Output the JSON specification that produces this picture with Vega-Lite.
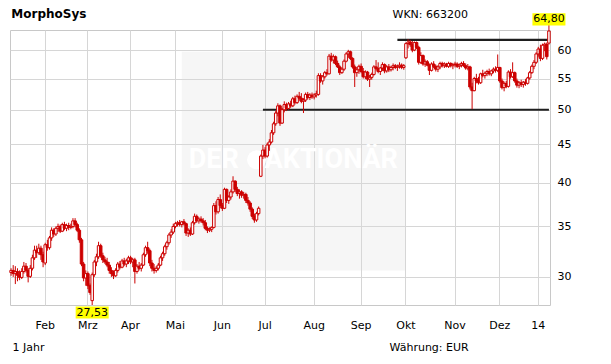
{
"$schema": "https://vega.github.io/schema/vega-lite/v6.json",
"autosize": {"type": "none"},
"padding": {"left": 10, "top": 30, "right": 61, "bottom": 59},
"width": 540,
"height": 275,
"background": "white",
"title": {"text": "MorphoSys", "anchor": "start", "font": "DejaVu Sans", "fontSize": 12, "fontWeight": "bold", "color": "black", "dx": 2, "dy": 17, "offset": 4},
"config": {"view": {"stroke": "#c8c8c8", "strokeWidth": 1}},
"datasets": {
"k": [
{"d":"2013-01-10","o":30.4,"h":30.8,"l":30.1,"c":30.6},
{"d":"2013-01-11","o":30.6,"h":31.1,"l":30.0,"c":30.3},
{"d":"2013-01-14","o":30.3,"h":31.0,"l":29.35,"c":30.5},
{"d":"2013-01-15","o":30.5,"h":30.8,"l":29.6,"c":30.15},
{"d":"2013-01-16","o":30.15,"h":30.6,"l":29.7,"c":29.95},
{"d":"2013-01-17","o":29.95,"h":30.8,"l":29.8,"c":30.5},
{"d":"2013-01-18","o":30.5,"h":31.4,"l":30.3,"c":31.0},
{"d":"2013-01-21","o":31.0,"h":31.3,"l":30.4,"c":30.6},
{"d":"2013-01-22","o":30.6,"h":30.8,"l":29.5,"c":30.05},
{"d":"2013-01-23","o":30.05,"h":31.1,"l":29.9,"c":30.8},
{"d":"2013-01-24","o":30.8,"h":32.1,"l":30.6,"c":31.8},
{"d":"2013-01-25","o":31.8,"h":33.0,"l":31.6,"c":32.55},
{"d":"2013-01-28","o":32.55,"h":33.0,"l":31.8,"c":32.3},
{"d":"2013-01-29","o":32.3,"h":33.2,"l":32.1,"c":32.75},
{"d":"2013-01-30","o":32.75,"h":33.0,"l":31.6,"c":32.1},
{"d":"2013-01-31","o":32.1,"h":32.4,"l":30.9,"c":31.4},
{"d":"2013-02-01","o":31.3,"h":33.3,"l":31.1,"c":33.1},
{"d":"2013-02-04","o":33.1,"h":33.6,"l":32.5,"c":32.8},
{"d":"2013-02-05","o":32.8,"h":34.0,"l":32.6,"c":33.8},
{"d":"2013-02-06","o":33.8,"h":34.9,"l":33.5,"c":34.6},
{"d":"2013-02-07","o":34.6,"h":34.8,"l":33.9,"c":34.2},
{"d":"2013-02-08","o":34.2,"h":35.0,"l":34.0,"c":34.8},
{"d":"2013-02-11","o":34.8,"h":35.3,"l":34.4,"c":35.0},
{"d":"2013-02-12","o":35.0,"h":35.2,"l":34.3,"c":34.5},
{"d":"2013-02-13","o":34.5,"h":35.4,"l":34.4,"c":35.2},
{"d":"2013-02-14","o":35.2,"h":35.5,"l":34.6,"c":34.8},
{"d":"2013-02-15","o":34.8,"h":35.3,"l":34.5,"c":35.1},
{"d":"2013-02-18","o":35.1,"h":35.4,"l":34.6,"c":34.9},
{"d":"2013-02-19","o":34.9,"h":35.3,"l":34.7,"c":35.0},
{"d":"2013-02-20","o":35.0,"h":35.9,"l":34.8,"c":35.6},
{"d":"2013-02-21","o":35.6,"h":35.9,"l":34.9,"c":35.2},
{"d":"2013-02-22","o":35.2,"h":35.4,"l":34.4,"c":34.6},
{"d":"2013-02-25","o":34.6,"h":34.8,"l":33.3,"c":33.6},
{"d":"2013-02-26","o":33.6,"h":33.8,"l":31.0,"c":31.2},
{"d":"2013-02-27","o":31.2,"h":31.4,"l":29.6,"c":29.9},
{"d":"2013-02-28","o":29.9,"h":30.6,"l":29.2,"c":30.3},
{"d":"2013-03-01","o":30.3,"h":30.5,"l":28.9,"c":29.2},
{"d":"2013-03-04","o":29.2,"h":29.4,"l":28.4,"c":28.6},
{"d":"2013-03-05","o":27.9,"h":30.4,"l":27.53,"c":30.2},
{"d":"2013-03-06","o":30.2,"h":31.6,"l":30.0,"c":31.4},
{"d":"2013-03-07","o":31.4,"h":32.2,"l":31.0,"c":31.9},
{"d":"2013-03-08","o":31.9,"h":33.4,"l":31.7,"c":33.0},
{"d":"2013-03-11","o":33.0,"h":33.2,"l":31.8,"c":32.0},
{"d":"2013-03-12","o":32.0,"h":32.3,"l":31.3,"c":31.6},
{"d":"2013-03-13","o":31.6,"h":31.9,"l":31.2,"c":31.4},
{"d":"2013-03-14","o":31.4,"h":31.8,"l":30.9,"c":31.1},
{"d":"2013-03-15","o":31.1,"h":31.4,"l":30.3,"c":30.6},
{"d":"2013-03-18","o":30.6,"h":30.9,"l":30.0,"c":30.3},
{"d":"2013-03-19","o":30.3,"h":30.6,"l":29.8,"c":30.1},
{"d":"2013-03-20","o":30.1,"h":30.8,"l":30.0,"c":30.6},
{"d":"2013-03-21","o":30.6,"h":31.4,"l":30.4,"c":31.2},
{"d":"2013-03-22","o":31.2,"h":31.5,"l":30.7,"c":30.9},
{"d":"2013-03-25","o":30.9,"h":31.7,"l":30.8,"c":31.5},
{"d":"2013-03-26","o":31.5,"h":31.8,"l":31.0,"c":31.2},
{"d":"2013-03-27","o":31.2,"h":31.7,"l":30.9,"c":31.5},
{"d":"2013-03-28","o":31.5,"h":32.0,"l":31.2,"c":31.8},
{"d":"2013-04-02","o":31.8,"h":32.0,"l":31.2,"c":31.4},
{"d":"2013-04-03","o":31.4,"h":31.8,"l":30.9,"c":31.6},
{"d":"2013-04-04","o":31.6,"h":31.8,"l":29.4,"c":30.5},
{"d":"2013-04-05","o":30.5,"h":31.2,"l":30.3,"c":31.0},
{"d":"2013-04-08","o":31.0,"h":31.4,"l":30.6,"c":30.8},
{"d":"2013-04-09","o":30.8,"h":31.3,"l":30.5,"c":31.1},
{"d":"2013-04-10","o":31.1,"h":32.3,"l":31.0,"c":32.1},
{"d":"2013-04-11","o":32.1,"h":33.0,"l":31.9,"c":32.8},
{"d":"2013-04-12","o":32.8,"h":33.4,"l":32.2,"c":32.5},
{"d":"2013-04-15","o":32.5,"h":32.7,"l":31.0,"c":31.3},
{"d":"2013-04-16","o":31.3,"h":31.6,"l":30.5,"c":30.8},
{"d":"2013-04-17","o":30.8,"h":31.2,"l":30.3,"c":30.6},
{"d":"2013-04-18","o":30.6,"h":31.0,"l":30.4,"c":30.8},
{"d":"2013-04-19","o":30.8,"h":31.3,"l":30.6,"c":31.1},
{"d":"2013-04-22","o":31.1,"h":32.0,"l":31.0,"c":31.8},
{"d":"2013-04-23","o":31.8,"h":32.4,"l":31.5,"c":32.2},
{"d":"2013-04-24","o":32.2,"h":33.1,"l":32.0,"c":32.9},
{"d":"2013-04-25","o":32.9,"h":33.5,"l":32.6,"c":33.3},
{"d":"2013-04-26","o":33.3,"h":34.3,"l":33.1,"c":34.1},
{"d":"2013-04-29","o":34.1,"h":34.7,"l":33.8,"c":34.4},
{"d":"2013-04-30","o":34.4,"h":35.3,"l":34.2,"c":35.0},
{"d":"2013-05-02","o":35.0,"h":35.5,"l":34.8,"c":35.3},
{"d":"2013-05-03","o":35.3,"h":35.6,"l":35.0,"c":35.4},
{"d":"2013-05-06","o":35.4,"h":35.7,"l":35.0,"c":35.2},
{"d":"2013-05-07","o":35.2,"h":35.6,"l":34.9,"c":35.5},
{"d":"2013-05-08","o":35.5,"h":35.8,"l":35.1,"c":35.3},
{"d":"2013-05-09","o":35.3,"h":35.4,"l":34.0,"c":34.3},
{"d":"2013-05-10","o":34.3,"h":34.8,"l":33.9,"c":34.6},
{"d":"2013-05-13","o":34.6,"h":34.9,"l":34.0,"c":34.2},
{"d":"2013-05-14","o":34.2,"h":35.6,"l":34.1,"c":35.4},
{"d":"2013-05-15","o":35.4,"h":36.4,"l":35.2,"c":36.1},
{"d":"2013-05-16","o":36.1,"h":36.3,"l":35.4,"c":35.6},
{"d":"2013-05-17","o":35.6,"h":36.0,"l":35.3,"c":35.8},
{"d":"2013-05-20","o":35.8,"h":36.1,"l":35.4,"c":35.6},
{"d":"2013-05-21","o":35.6,"h":35.9,"l":35.1,"c":35.4},
{"d":"2013-05-22","o":35.4,"h":35.7,"l":34.6,"c":34.8},
{"d":"2013-05-23","o":34.8,"h":35.0,"l":34.3,"c":34.6},
{"d":"2013-05-24","o":34.6,"h":34.9,"l":34.4,"c":34.7},
{"d":"2013-05-27","o":34.7,"h":35.0,"l":34.4,"c":34.9},
{"d":"2013-05-28","o":34.9,"h":37.6,"l":34.8,"c":37.3},
{"d":"2013-05-29","o":37.3,"h":37.8,"l":36.3,"c":36.6},
{"d":"2013-05-30","o":36.6,"h":38.3,"l":36.4,"c":38.0},
{"d":"2013-05-31","o":38.0,"h":38.6,"l":37.0,"c":37.3},
{"d":"2013-06-03","o":37.3,"h":37.6,"l":36.7,"c":37.0},
{"d":"2013-06-04","o":37.0,"h":39.4,"l":36.9,"c":39.2},
{"d":"2013-06-05","o":39.2,"h":39.3,"l":37.6,"c":37.9},
{"d":"2013-06-06","o":37.9,"h":38.5,"l":37.5,"c":38.3},
{"d":"2013-06-07","o":38.3,"h":39.2,"l":38.0,"c":38.9},
{"d":"2013-06-10","o":38.9,"h":40.8,"l":38.7,"c":40.2},
{"d":"2013-06-11","o":40.2,"h":40.3,"l":38.9,"c":39.2},
{"d":"2013-06-12","o":39.2,"h":39.5,"l":38.4,"c":38.7},
{"d":"2013-06-13","o":38.7,"h":39.2,"l":38.1,"c":38.9},
{"d":"2013-06-14","o":38.9,"h":39.1,"l":38.2,"c":38.5},
{"d":"2013-06-17","o":38.5,"h":38.9,"l":38.1,"c":38.6},
{"d":"2013-06-18","o":38.6,"h":38.8,"l":37.6,"c":37.9},
{"d":"2013-06-19","o":37.9,"h":38.3,"l":37.3,"c":37.6},
{"d":"2013-06-20","o":37.6,"h":37.8,"l":36.6,"c":36.9},
{"d":"2013-06-21","o":36.9,"h":37.1,"l":35.8,"c":36.1},
{"d":"2013-06-24","o":36.1,"h":36.4,"l":35.4,"c":35.7},
{"d":"2013-06-25","o":35.7,"h":36.6,"l":35.5,"c":36.4},
{"d":"2013-06-26","o":36.4,"h":37.2,"l":36.2,"c":37.0},
{"d":"2013-06-27","o":40.8,"h":43.6,"l":40.7,"c":43.4},
{"d":"2013-06-28","o":43.4,"h":44.9,"l":43.0,"c":44.2},
{"d":"2013-07-01","o":44.2,"h":44.6,"l":43.1,"c":43.4},
{"d":"2013-07-02","o":43.4,"h":45.2,"l":43.2,"c":44.9},
{"d":"2013-07-03","o":44.9,"h":45.7,"l":44.1,"c":45.3},
{"d":"2013-07-04","o":45.3,"h":47.0,"l":45.1,"c":46.6},
{"d":"2013-07-05","o":46.6,"h":48.2,"l":46.3,"c":47.9},
{"d":"2013-07-08","o":47.9,"h":49.8,"l":47.6,"c":49.5},
{"d":"2013-07-09","o":49.5,"h":51.0,"l":49.0,"c":50.6},
{"d":"2013-07-10","o":50.6,"h":50.8,"l":47.6,"c":48.0},
{"d":"2013-07-11","o":48.0,"h":50.3,"l":47.9,"c":50.0},
{"d":"2013-07-12","o":50.0,"h":51.3,"l":49.6,"c":50.8},
{"d":"2013-07-15","o":50.8,"h":51.1,"l":49.8,"c":50.2},
{"d":"2013-07-16","o":50.2,"h":51.2,"l":50.0,"c":50.9},
{"d":"2013-07-17","o":50.9,"h":51.4,"l":50.3,"c":50.6},
{"d":"2013-07-18","o":50.6,"h":52.0,"l":50.4,"c":51.7},
{"d":"2013-07-19","o":51.7,"h":52.2,"l":50.8,"c":51.1},
{"d":"2013-07-22","o":51.1,"h":52.4,"l":50.9,"c":52.1},
{"d":"2013-07-23","o":52.1,"h":52.8,"l":51.4,"c":51.8},
{"d":"2013-07-24","o":51.8,"h":52.6,"l":51.0,"c":51.3},
{"d":"2013-07-25","o":51.3,"h":51.8,"l":49.5,"c":51.5},
{"d":"2013-07-26","o":51.5,"h":52.7,"l":51.2,"c":52.4},
{"d":"2013-07-29","o":52.4,"h":52.8,"l":51.6,"c":51.9},
{"d":"2013-07-30","o":51.9,"h":52.6,"l":51.5,"c":52.3},
{"d":"2013-07-31","o":52.3,"h":52.7,"l":51.7,"c":52.0},
{"d":"2013-08-01","o":52.0,"h":52.6,"l":51.6,"c":52.3},
{"d":"2013-08-02","o":52.3,"h":53.0,"l":51.9,"c":52.5},
{"d":"2013-08-05","o":52.4,"h":55.9,"l":52.2,"c":55.5},
{"d":"2013-08-06","o":55.5,"h":55.9,"l":54.3,"c":54.6},
{"d":"2013-08-07","o":54.6,"h":55.6,"l":54.0,"c":55.3},
{"d":"2013-08-08","o":55.3,"h":56.3,"l":55.0,"c":56.0},
{"d":"2013-08-09","o":56.0,"h":56.6,"l":55.5,"c":55.8},
{"d":"2013-08-12","o":55.8,"h":59.3,"l":55.7,"c":58.9},
{"d":"2013-08-13","o":58.9,"h":59.5,"l":57.9,"c":58.2},
{"d":"2013-08-14","o":58.2,"h":59.2,"l":57.6,"c":58.8},
{"d":"2013-08-15","o":58.8,"h":59.0,"l":57.3,"c":57.6},
{"d":"2013-08-16","o":57.6,"h":58.1,"l":56.8,"c":57.0},
{"d":"2013-08-19","o":57.0,"h":57.3,"l":55.6,"c":56.0},
{"d":"2013-08-20","o":56.0,"h":56.9,"l":55.8,"c":56.6},
{"d":"2013-08-21","o":56.6,"h":58.3,"l":56.3,"c":58.0},
{"d":"2013-08-22","o":58.0,"h":59.6,"l":57.8,"c":59.3},
{"d":"2013-08-23","o":59.3,"h":60.05,"l":58.6,"c":59.7},
{"d":"2013-08-26","o":59.7,"h":59.9,"l":58.2,"c":58.5},
{"d":"2013-08-27","o":58.5,"h":58.7,"l":56.7,"c":57.0},
{"d":"2013-08-28","o":57.0,"h":57.4,"l":53.6,"c":56.0},
{"d":"2013-08-29","o":56.0,"h":57.0,"l":55.3,"c":56.5},
{"d":"2013-08-30","o":56.5,"h":57.4,"l":55.8,"c":57.1},
{"d":"2013-09-02","o":57.1,"h":57.6,"l":55.9,"c":56.2},
{"d":"2013-09-03","o":56.2,"h":56.8,"l":55.0,"c":55.3},
{"d":"2013-09-04","o":55.3,"h":56.4,"l":54.9,"c":56.1},
{"d":"2013-09-05","o":56.1,"h":56.3,"l":54.6,"c":54.9},
{"d":"2013-09-06","o":54.9,"h":55.6,"l":53.6,"c":55.2},
{"d":"2013-09-09","o":55.2,"h":56.0,"l":54.8,"c":55.7},
{"d":"2013-09-10","o":55.7,"h":57.3,"l":55.5,"c":57.0},
{"d":"2013-09-11","o":57.0,"h":58.2,"l":56.4,"c":56.7},
{"d":"2013-09-12","o":56.7,"h":57.8,"l":55.9,"c":56.2},
{"d":"2013-09-13","o":56.2,"h":57.0,"l":55.6,"c":56.8},
{"d":"2013-09-16","o":56.8,"h":57.8,"l":56.3,"c":57.4},
{"d":"2013-09-17","o":57.4,"h":57.6,"l":55.9,"c":56.3},
{"d":"2013-09-18","o":56.3,"h":57.3,"l":56.0,"c":57.0},
{"d":"2013-09-19","o":57.0,"h":57.5,"l":56.1,"c":56.5},
{"d":"2013-09-20","o":56.5,"h":57.2,"l":56.2,"c":56.9},
{"d":"2013-09-23","o":56.9,"h":57.6,"l":56.4,"c":57.2},
{"d":"2013-09-24","o":57.2,"h":57.5,"l":56.6,"c":56.9},
{"d":"2013-09-25","o":56.9,"h":57.4,"l":56.3,"c":57.1},
{"d":"2013-09-26","o":57.1,"h":57.8,"l":56.7,"c":57.3},
{"d":"2013-09-27","o":57.3,"h":57.6,"l":56.6,"c":56.9},
{"d":"2013-09-30","o":56.9,"h":57.5,"l":56.5,"c":57.2},
{"d":"2013-10-01","o":58.6,"h":61.4,"l":58.4,"c":61.2},
{"d":"2013-10-02","o":61.2,"h":62.0,"l":60.3,"c":61.5},
{"d":"2013-10-03","o":61.5,"h":61.9,"l":60.6,"c":61.0},
{"d":"2013-10-04","o":61.0,"h":61.7,"l":59.6,"c":60.0},
{"d":"2013-10-07","o":60.0,"h":61.6,"l":59.8,"c":61.4},
{"d":"2013-10-08","o":61.4,"h":61.6,"l":60.2,"c":60.5},
{"d":"2013-10-09","o":60.5,"h":60.8,"l":57.4,"c":57.8},
{"d":"2013-10-10","o":57.8,"h":59.6,"l":57.5,"c":59.0},
{"d":"2013-10-11","o":59.0,"h":59.2,"l":57.2,"c":57.5},
{"d":"2013-10-14","o":57.5,"h":58.3,"l":57.0,"c":57.9},
{"d":"2013-10-15","o":57.9,"h":58.2,"l":57.1,"c":57.3},
{"d":"2013-10-16","o":57.3,"h":57.6,"l":55.6,"c":56.4},
{"d":"2013-10-17","o":56.4,"h":57.8,"l":56.2,"c":57.5},
{"d":"2013-10-18","o":57.5,"h":58.0,"l":56.8,"c":57.1},
{"d":"2013-10-21","o":57.1,"h":57.4,"l":56.2,"c":56.6},
{"d":"2013-10-22","o":56.6,"h":57.3,"l":56.1,"c":57.0},
{"d":"2013-10-23","o":57.0,"h":57.9,"l":56.6,"c":57.6},
{"d":"2013-10-24","o":57.6,"h":57.9,"l":56.9,"c":57.2},
{"d":"2013-10-25","o":57.2,"h":57.8,"l":56.8,"c":57.5},
{"d":"2013-10-28","o":57.5,"h":57.7,"l":56.9,"c":57.1},
{"d":"2013-10-29","o":57.1,"h":57.9,"l":56.8,"c":57.6},
{"d":"2013-10-30","o":57.6,"h":57.8,"l":56.9,"c":57.2},
{"d":"2013-10-31","o":57.2,"h":57.7,"l":56.6,"c":57.4},
{"d":"2013-11-01","o":57.4,"h":57.9,"l":56.9,"c":57.5},
{"d":"2013-11-04","o":57.5,"h":57.8,"l":56.8,"c":57.1},
{"d":"2013-11-05","o":57.1,"h":57.6,"l":56.6,"c":57.3},
{"d":"2013-11-06","o":57.3,"h":57.9,"l":56.9,"c":57.6},
{"d":"2013-11-07","o":57.6,"h":58.0,"l":57.0,"c":57.2},
{"d":"2013-11-08","o":57.2,"h":57.6,"l":56.5,"c":56.8},
{"d":"2013-11-11","o":56.8,"h":57.5,"l":56.4,"c":57.0},
{"d":"2013-11-12","o":57.0,"h":57.2,"l":53.2,"c":53.6},
{"d":"2013-11-13","o":53.6,"h":54.3,"l":50.1,"c":53.0},
{"d":"2013-11-14","o":53.0,"h":55.3,"l":52.9,"c":55.0},
{"d":"2013-11-15","o":55.0,"h":55.8,"l":54.2,"c":54.6},
{"d":"2013-11-18","o":54.6,"h":55.3,"l":54.0,"c":54.3},
{"d":"2013-11-19","o":54.3,"h":56.0,"l":54.1,"c":55.8},
{"d":"2013-11-20","o":55.8,"h":56.5,"l":55.2,"c":55.5},
{"d":"2013-11-21","o":55.5,"h":56.2,"l":55.0,"c":55.9},
{"d":"2013-11-22","o":55.9,"h":56.5,"l":55.4,"c":56.2},
{"d":"2013-11-25","o":56.2,"h":56.7,"l":55.5,"c":55.8},
{"d":"2013-11-26","o":55.8,"h":56.5,"l":55.4,"c":56.3},
{"d":"2013-11-27","o":56.3,"h":56.9,"l":55.9,"c":56.6},
{"d":"2013-11-28","o":56.6,"h":57.1,"l":56.0,"c":56.4},
{"d":"2013-11-29","o":56.4,"h":59.2,"l":56.1,"c":56.9},
{"d":"2013-12-02","o":56.9,"h":57.0,"l":54.3,"c":54.6},
{"d":"2013-12-03","o":54.6,"h":55.0,"l":53.2,"c":53.5},
{"d":"2013-12-04","o":53.5,"h":54.5,"l":52.9,"c":54.2},
{"d":"2013-12-05","o":54.2,"h":54.6,"l":53.4,"c":53.7},
{"d":"2013-12-06","o":53.7,"h":56.4,"l":53.5,"c":56.1},
{"d":"2013-12-09","o":56.1,"h":56.6,"l":55.0,"c":55.3},
{"d":"2013-12-10","o":55.3,"h":57.8,"l":55.1,"c":56.0},
{"d":"2013-12-11","o":56.0,"h":56.2,"l":54.3,"c":54.6},
{"d":"2013-12-12","o":54.6,"h":55.0,"l":53.5,"c":53.9},
{"d":"2013-12-13","o":53.9,"h":54.6,"l":53.4,"c":54.3},
{"d":"2013-12-16","o":54.3,"h":54.8,"l":53.6,"c":54.0},
{"d":"2013-12-17","o":54.0,"h":54.6,"l":53.5,"c":54.4},
{"d":"2013-12-18","o":54.4,"h":54.9,"l":53.8,"c":54.2},
{"d":"2013-12-19","o":54.2,"h":55.3,"l":54.0,"c":55.1},
{"d":"2013-12-20","o":55.1,"h":56.3,"l":54.8,"c":56.0},
{"d":"2013-12-23","o":56.0,"h":57.4,"l":55.8,"c":57.1},
{"d":"2013-12-27","o":57.1,"h":58.2,"l":56.6,"c":57.8},
{"d":"2013-12-30","o":57.8,"h":59.6,"l":57.5,"c":59.3},
{"d":"2014-01-02","o":59.3,"h":60.6,"l":58.8,"c":60.2},
{"d":"2014-01-03","o":60.2,"h":61.0,"l":58.0,"c":58.5},
{"d":"2014-01-06","o":58.5,"h":61.2,"l":58.2,"c":60.9},
{"d":"2014-01-07","o":60.9,"h":61.4,"l":59.8,"c":61.1},
{"d":"2014-01-08","o":61.1,"h":61.4,"l":58.3,"c":58.8},
{"d":"2014-01-09","o":61.3,"h":64.8,"l":61.0,"c":63.6}
],
"lines": [
{"a":"2013-06-28","b":"2014-01-09","v":50.0},
{"a":"2013-09-25","b":"2014-01-09","v":61.9}
],
"wm": [{"a":"2013-05-07","b":"2013-10-01","y1":30.6,"y2":59.7}],
"wmtext": [
{"d":"2013-05-28","v":42.9,"t":"DER"},
{"d":"2013-08-13","v":42.9,"t":"AKTIONÄR"}
],
"wmlogo": [{"d":"2013-06-25","v":42.9}],
"lo": [{"d":"2013-03-05","v":27.53,"t":"27,53"}],
"hi": [{"d":"2014-01-09","v":64.8,"t":"64,80"}]
},
"layer": [
{
"data": {"name": "wm"},
"mark": {"type": "rect", "fill": "#dddddd", "opacity": 0.25},
"encoding": {
"x": {"field": "a", "type": "ordinal", "axis": null},
"x2": {"field": "b"},
"y": {"field": "y1", "type": "quantitative", "axis": null},
"y2": {"field": "y2"}
}
},
{
"data": {"name": "wmtext"},
"mark": {"type": "text", "font": "Roboto", "fontSize": 27, "fontWeight": "bold", "color": "white", "baseline": "middle", "align": "center"},
"encoding": {
"x": {"field": "d", "type": "ordinal", "axis": null},
"y": {"field": "v", "type": "quantitative", "axis": null},
"text": {"field": "t"}
}
},
{
"data": {"name": "wmlogo"},
"mark": {"type": "point", "shape": "circle", "filled": true, "color": "white", "opacity": 1, "size": 360},
"encoding": {
"x": {"field": "d", "type": "ordinal", "axis": null},
"y": {"field": "v", "type": "quantitative", "axis": null}
}
},
{
"data": {"name": "lines"},
"mark": {"type": "rule", "color": "#1e1e1e", "strokeWidth": 2.2},
"encoding": {
"x": {"field": "a", "type": "ordinal", "axis": null},
"x2": {"field": "b"},
"y": {"field": "v", "type": "quantitative", "axis": {"orient": "left", "labels": false, "ticks": false, "domain": false, "grid": false, "title": "Währung: EUR", "titleAngle": 0, "titleAlign": "left", "titleBaseline": "alphabetic", "titleX": 379, "titleY": 320, "titleFont": "DejaVu Sans", "titleFontSize": 11, "titleFontWeight": "normal", "titleColor": "black"}}
}
},
{
"data": {"name": "k"},
"mark": {"type": "rule", "color": "#cc0000", "strokeWidth": 1},
"encoding": {
"x": {"field": "d", "type": "ordinal", "axis": null},
"y": {"field": "l", "type": "quantitative", "axis": null},
"y2": {"field": "h"}
}
},
{
"data": {"name": "k"},
"mark": {"type": "bar", "stroke": "#cc0000", "strokeWidth": 1, "width": 2.5},
"encoding": {
"x": {"field": "d", "type": "ordinal",
"scale": {"type": "band", "paddingInner": 0, "paddingOuter": 0},
"axis": {"values": ["2013-02-01","2013-03-01","2013-04-02","2013-05-02","2013-06-03","2013-07-01","2013-08-01","2013-09-02","2013-10-01","2013-11-01","2013-12-02","2014-01-02"],
"labelExpr": "datum.value == '2014-01-02' ? '14' : ['Jan','Feb','Mrz','Apr','Mai','Jun','Jul','Aug','Sep','Okt','Nov','Dez'][toNumber(substring(datum.value, 5, 7)) - 1]",
"grid": true, "gridColor": "#d6d6d6", "ticks": false, "domain": false, "labelAngle": 0,
"labelFont": "DejaVu Sans", "labelFontSize": 11, "labelColor": "black", "labelPadding": 14,
"title": "1 Jahr", "titleAnchor": "start", "titleAlign": "left", "titleBaseline": "alphabetic", "titleX": 2, "titleY": 45,
"titleFont": "DejaVu Sans", "titleFontSize": 11, "titleFontWeight": "normal", "titleColor": "black"}},
"y": {"field": "o", "type": "quantitative",
"scale": {"type": "log", "domain": [27.53, 63.8], "nice": false, "zero": false},
"axis": {"orient": "right", "values": [30,35,40,45,50,55,60], "grid": true, "gridColor": "#d6d6d6", "ticks": false, "domain": false,
"labelFont": "DejaVu Sans", "labelFontSize": 11, "labelColor": "black", "labelPadding": 7,
"title": "WKN: 663200", "titleAngle": 0, "titleAlign": "left", "titleBaseline": "alphabetic", "titleX": -158, "titleY": -13,
"titleFont": "DejaVu Sans", "titleFontSize": 11, "titleFontWeight": "normal", "titleColor": "black"}},
"y2": {"field": "c"},
"fill": {"condition": {"test": "datum.c > datum.o", "value": "white"}, "value": "#cc0000"}
}
},
{
"data": {"name": "lo"},
"layer": [
{"mark": {"type": "point", "shape": "M-1,-0.37H1V0.37H-1Z", "filled": true, "color": "#ffff00", "opacity": 1, "size": 1089, "yOffset": 7.5}},
{"mark": {"type": "text", "font": "DejaVu Sans", "fontSize": 11, "color": "black", "baseline": "middle", "align": "center", "dy": 7.5}, "encoding": {"text": {"field": "t"}}}
],
"encoding": {
"x": {"field": "d", "type": "ordinal", "axis": null},
"y": {"field": "v", "type": "quantitative", "axis": null}
}
},
{
"data": {"name": "hi"},
"layer": [
{"mark": {"type": "point", "shape": "M-1,-0.37H1V0.37H-1Z", "filled": true, "color": "#ffff00", "opacity": 1, "size": 1089, "yOffset": -5.5}},
{"mark": {"type": "text", "font": "DejaVu Sans", "fontSize": 11, "color": "black", "baseline": "middle", "align": "center", "dy": -5.5}, "encoding": {"text": {"field": "t"}}}
],
"encoding": {
"x": {"field": "d", "type": "ordinal", "axis": null},
"y": {"field": "v", "type": "quantitative", "axis": null}
}
}
],
"resolve": {"axis": {"x": "independent", "y": "independent"}}
}
